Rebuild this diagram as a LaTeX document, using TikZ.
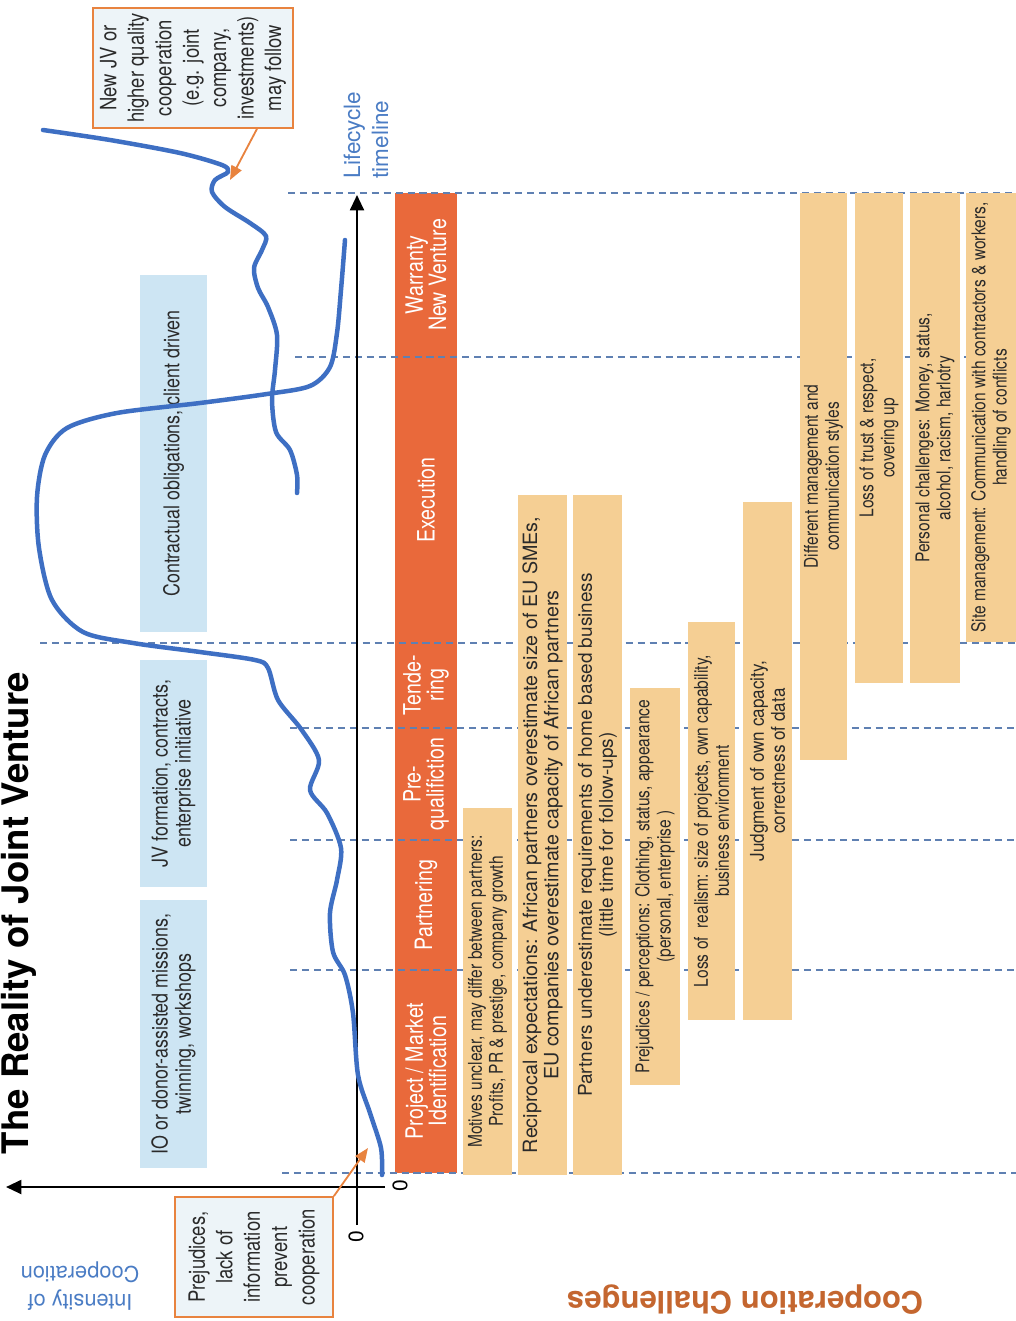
\documentclass[tikz,border=0pt]{standalone}
\usepackage{fontspec}
\setmainfont{TeX Gyre Heros}[FakeStretch=0.82]
\newfontfamily\widefont{TeX Gyre Heros}
\newfontfamily\semifont{TeX Gyre Heros}[FakeStretch=0.9]
\usetikzlibrary{arrows.meta,calc}
\definecolor{curveblue}{HTML}{3E6FC3}
\definecolor{lightblue}{HTML}{CDE5F3}
\definecolor{barorange}{HTML}{E9693B}
\definecolor{tanc}{HTML}{F5CF94}
\definecolor{dashc}{HTML}{5F80B2}
\definecolor{calloutc}{HTML}{E8833F}
\definecolor{calloutfill}{HTML}{EDF4F8}
\definecolor{textdark}{HTML}{2A2A2A}
\definecolor{labelblue}{HTML}{4A7CC4}
\definecolor{challc}{HTML}{C4662F}
\newcommand{\pbox}[7]{%
  \node[#1, rotate=90, minimum width={(#6-#4)*0.025cm}, minimum height={(#5-#3)*0.025cm}]
    (#2) at ({(#3+#5)/2},{(#4+#6)/2}) {#7};}
\begin{document}
\begin{tikzpicture}[x=0.025cm,y=-0.025cm,
  tanbox/.style={fill=tanc, draw=none, inner sep=0pt, align=center, text=textdark,
    font=\fontsize{13.5}{15}\selectfont},
  tanwide/.style={tanbox, font=\widefont\fontsize{14}{15}\selectfont},
  tanmid/.style={tanbox, font=\widefont\fontsize{13.5}{15}\selectfont},
  tansemi/.style={tanbox, font=\semifont\fontsize{13.5}{15}\selectfont},
  bluebox/.style={fill=lightblue, draw=none, inner sep=0pt, align=center, text=textdark,
    font=\fontsize{15.5}{16.5}\selectfont},
  phaselabel/.style={text=white, align=center, rotate=90, inner sep=0pt,
    font=\fontsize{17}{16.5}\selectfont},
  phaseline/.style={draw=dashc, line width=0.8pt, dash pattern=on 5pt off 3.5pt},
  axisline/.style={line width=1.6pt, black},
  curve/.style={curveblue, line width=3.2pt, line cap=round, line join=round},
  callout/.style={draw=calloutc, line width=1.2pt, fill=calloutfill, align=center,
    inner sep=0pt, text=textdark, font=\fontsize{16}{19.5}\selectfont},
  pointer/.style={calloutc, line width=1.3pt, -{Triangle[length=10pt,width=8pt]}},
  axistip/.style={-{Triangle[length=11pt,width=10pt]}}
]
\useasboundingbox (0,0) rectangle (1016,1321);

% blue activity boxes
\pbox{bluebox}{act1}{140}{900}{207}{1168}{IO or donor-assisted missions,\\twinning, workshops}
\pbox{bluebox}{act2}{140}{660}{207}{887}{JV formation, contracts,\\enterprise initiative}
\pbox{bluebox}{act3}{140}{275}{207}{632}{Contractual obligations, client driven}

% orange phase bar
\fill[barorange] (395,193) rectangle (457,1173);
\node[phaselabel] (ph1) at (426,1071) {Project / Market\\Identification};
\node[phaselabel] (ph2) at (426,905) {Partnering};
\node[phaselabel] (ph3) at (426,784) {Pre-\\qualifiction};
\node[phaselabel] (ph4) at (426,685) {Tende-\\ring};
\node[phaselabel] (ph5) at (426,500) {Execution};
\node[phaselabel] (ph6) at (426,275) {Warranty\\New Venture};

% phase separators
\draw[phaseline] (288,193) -- (1016,193);
\draw[phaseline] (295,357) -- (1016,357);
\draw[phaseline] (40,643) -- (1016,643);
\draw[phaseline] (290,728) -- (1016,728);
\draw[phaseline] (290,840) -- (1016,840);
\draw[phaseline] (290,970) -- (1016,970);
\draw[phaseline] (282,1173) -- (1016,1173);

% challenge boxes
\pbox{tanbox}{ch1}{463}{808}{512}{1175}{Motives unclear, may differ between partners:\\Profits, PR \& prestige, company growth}
\pbox{tanwide}{ch2}{518}{495}{567}{1175}{Reciprocal expectations: African partners overestimate size of EU SMEs,\\EU companies overestimate capacity of African partners}
\pbox{tanmid}{ch3}{573}{495}{622}{1175}{Partners underestimate requirements of home based business\\(little time for follow-ups)}
\pbox{tanbox}{ch4}{630}{688}{680}{1085}{Prejudices / perceptions: Clothing, status, appearance\\(personal, enterprise )}
\pbox{tanbox}{ch5}{688}{622}{735}{1020}{Loss of~ realism: size of projects, own capability,\\business environment}
\pbox{tansemi}{ch6}{743}{502}{792}{1020}{Judgment of own capacity,\\correctness of data}
\pbox{tanbox}{ch7}{800}{193}{847}{760}{Different management and\\communication styles}
\pbox{tanbox}{ch8}{855}{193}{903}{683}{Loss of trust \& respect,\\covering up}
\pbox{tanbox}{ch9}{910}{193}{960}{683}{Personal challenges: Money, status,\\alcohol, racism, harlotry}
\pbox{tanbox}{ch10}{966}{193}{1016}{642}{Site management: Communication with contractors \& workers,\\handling of conflicts}

% axes
\coordinate (ttop) at (357,195);
\coordinate (tbot) at (357,1225);
\coordinate (iright) at (385,1187);
\coordinate (iend) at (6,1187);
\draw[axisline,axistip] (tbot) -- (ttop);
\draw[axisline,axistip] (iright) -- (iend);
\node[rotate=90, font=\widefont\fontsize{15}{15}\selectfont] (zeroA) at (356,1237) {0};
\node[rotate=90, font=\widefont\fontsize{15}{15}\selectfont] (zeroB) at (400,1186) {0};

% intensity curves
\draw[curve] plot[smooth, tension=0.5] coordinates {
 (382,1175) (381,1148) (370,1113) (358,1075) (353,1013) (345,975) (333,952)
 (330,913) (337,880) (341,848) (327,813) (310,790) (319,760) (301,729)
 (278,700) (268,668) (255,660) (200,652) (133,643) (83,632) (52,600)
 (39,548) (37,497) (45,455) (67,428) (117,413) (200,403) (267,394)
 (310,386) (330,367) (337,333) (341,290) (345,240)};
\draw[curve] plot[smooth, tension=0.5] coordinates {
 (43,130) (110,140) (180,153) (222,165) (228,172) (215,180) (212,192)
 (225,207) (250,223) (266,236) (262,250) (254,268) (258,288) (268,307)
 (277,335) (275,370) (272,400) (276,432) (290,450) (297,475) (297,493)};

% callouts
\node[callout, rotate=90, minimum width=3cm, minimum height=3.95cm] (callA) at (254,1257)
  {Prejudices,\\lack of\\information\\prevent\\cooperation};
\node[callout, rotate=90, minimum width=3cm, minimum height=5cm] (callB) at (193,68)
  {New JV or\\higher quality\\cooperation\\(e.g. joint\\company,\\investments)\\may follow};
\coordinate (tipA) at (368,1148);
\coordinate (tipB) at (230,180);
\draw[pointer] (callA.south east) -- (tipA);
\draw[pointer] ($(callB.west)+(64,0)$) -- (tipB);

% titles and axis labels
\node[rotate=90, font=\widefont\bfseries\fontsize{26}{26}\selectfont] (title) at (19,913)
  {The Reality of Joint Venture};
\node[rotate=90, align=left, text=labelblue, font=\widefont\fontsize{16}{20}\selectfont]
  (lifecycle) at (366,135) {Lifecycle\\timeline};
\node[rotate=180, align=center, text=labelblue, font=\widefont\fontsize{15.5}{20}\selectfont]
  (intensity) at (80,1286) {Intensity of\\Cooperation};
\node[rotate=180, text=challc, font=\widefont\bfseries\fontsize{22}{22}\selectfont]
  (challenges) at (745,1300) {Cooperation Challenges};
\end{tikzpicture}
\end{document}
